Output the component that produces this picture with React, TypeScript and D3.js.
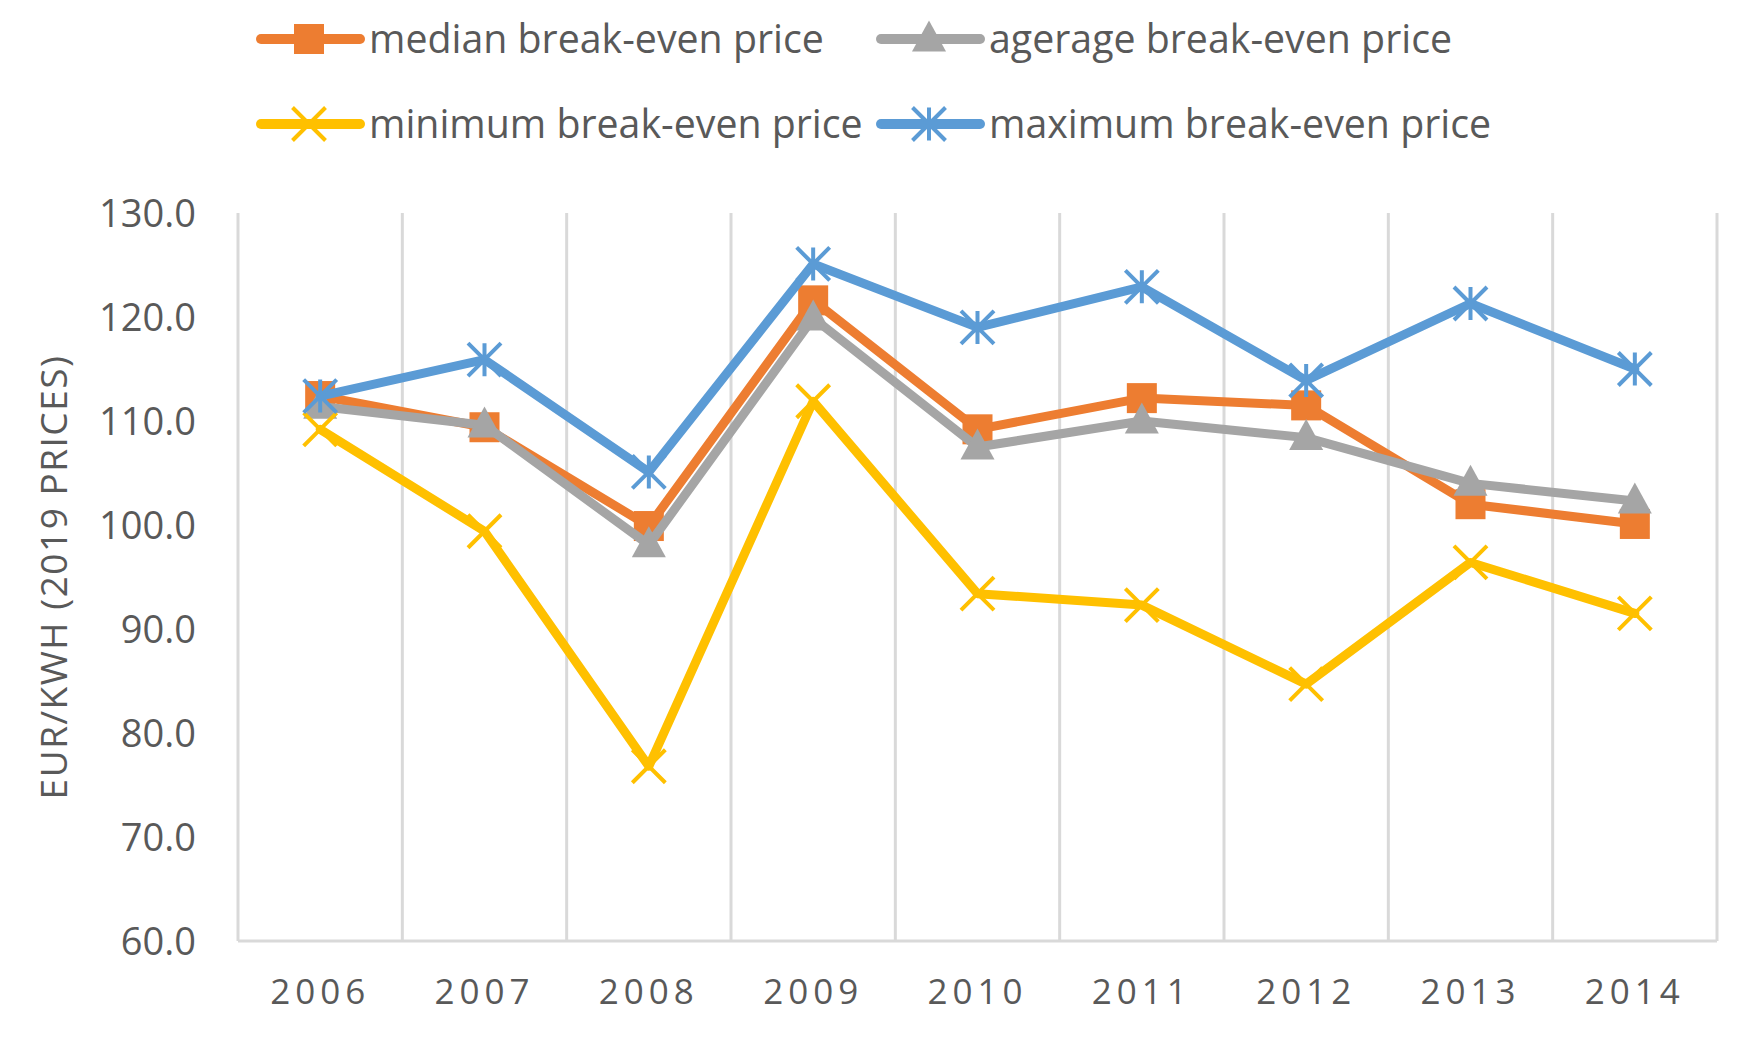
import React from 'react';
import * as d3 from 'd3';

const years = ['2006', '2007', '2008', '2009', '2010', '2011', '2012', '2013', '2014'];
const medianPrice = [112.4, 109.4, 99.9, 121.6, 109.2, 112.2, 111.5, 102.0, 100.1];
const averagePrice = [111.4, 109.6, 98.1, 119.9, 107.5, 110.0, 108.4, 104.0, 102.3];
const minimumPrice = [109.2, 99.4, 76.8, 111.9, 93.4, 92.3, 84.7, 96.4, 91.5];
const maximumPrice = [112.4, 115.9, 105.1, 125.1, 119.0, 122.9, 113.9, 121.3, 115.0];

const seriesLabels = [
  'median break-even price',
  'agerage break-even price',
  'minimum break-even price',
  'maximum break-even price',
];
const yAxisTitle = 'EUR/KWH (2019 PRICES)';

type MarkerKind = 'square' | 'triangle' | 'x' | 'star';

const series: { label: string; values: number[]; color: string; marker: MarkerKind }[] = [
  { label: seriesLabels[0], values: medianPrice, color: '#ED7D31', marker: 'square' },
  { label: seriesLabels[1], values: averagePrice, color: '#A5A5A5', marker: 'triangle' },
  { label: seriesLabels[2], values: minimumPrice, color: '#FFC000', marker: 'x' },
  { label: seriesLabels[3], values: maximumPrice, color: '#5B9BD5', marker: 'star' },
];

const W = 1764;
const H = 1037;
const plot = { left: 238, right: 1717, top: 213, bottom: 941 };
const textColor = '#595959';
const gridColor = '#D9D9D9';
const font = '"Open Sans", sans-serif';

const Marker: React.FC<{ kind: MarkerKind; cx: number; cy: number; color: string }> = ({ kind, cx, cy, color }) => {
  if (kind === 'square') {
    const s = 30;
    return <rect x={cx - s / 2} y={cy - s / 2} width={s} height={s} fill={color} />;
  }
  if (kind === 'triangle') {
    const w = 34, h = 31;
    return <path d={`M${cx},${cy - h * 0.6}L${cx + w / 2},${cy + h * 0.4}L${cx - w / 2},${cy + h * 0.4}Z`} fill={color} />;
  }
  const r = 16.5;
  const arms = [
    `M${cx - r},${cy - r}L${cx + r},${cy + r}`,
    `M${cx - r},${cy + r}L${cx + r},${cy - r}`,
  ];
  if (kind === 'star') arms.push(`M${cx},${cy - r}L${cx},${cy + r}`);
  return <path d={arms.join('')} stroke={color} strokeWidth={4} fill="none" />;
};

const App: React.FC = () => {
  const x = d3.scaleBand<string>().domain(years).range([plot.left, plot.right]).padding(0);
  const y = d3.scaleLinear().domain([60, 130]).range([plot.bottom, plot.top]);
  const cx = (yr: string) => (x(yr) as number) + x.bandwidth() / 2;

  const line = d3.line<number>()
    .x((_, i) => cx(years[i]))
    .y(d => y(d));

  // category boundaries (incl. both edges)
  const bounds = years.map(yr => x(yr) as number).concat([plot.right]);
  const yTicks = d3.range(60, 131, 10);
  const fmt = d3.format('.1f');

  const legendCols = [261, 881];
  const legendRows = [39, 124];

  return (
    <svg width={W} height={H} style={{ position: 'absolute', left: 0, top: 0, background: '#fff' }} fontFamily={font}>
      <rect width={W} height={H} fill="#fff" />

      {/* legend */}
      {series.map((s, i) => {
        const lx = legendCols[i % 2];
        const ly = legendRows[Math.floor(i / 2)];
        return (
          <g key={s.label}>
            <line x1={lx} x2={lx + 99} y1={ly} y2={ly} stroke={s.color} strokeWidth={10} strokeLinecap="round" />
            <Marker kind={s.marker} cx={lx + 48} cy={ly} color={s.color} />
            <text x={lx + 108} y={ly} dy="0.35em" fontSize={39.3} fill={textColor}>{s.label}</text>
          </g>
        );
      })}

      {/* grid */}
      {bounds.map((b, i) => (
        <line key={i} x1={b} x2={b} y1={plot.top} y2={plot.bottom} stroke={gridColor} strokeWidth={3} />
      ))}
      <line x1={plot.left} x2={plot.right} y1={plot.bottom} y2={plot.bottom} stroke={gridColor} strokeWidth={3} />

      {/* y axis labels */}
      {yTicks.map(t => (
        <text key={t} x={196} y={y(t)} dy="0.36em" textAnchor="end" fontSize={38} fill={textColor}>{fmt(t)}</text>
      ))}
      <text
        transform={`translate(${54},${(plot.top + plot.bottom) / 2}) rotate(-90)`}
        textAnchor="middle"
        dy="0.35em"
        fontSize={37}
        letterSpacing={1.5}
        fill={textColor}
      >{yAxisTitle}</text>

      {/* x axis labels */}
      {years.map(yr => (
        <text key={yr} x={cx(yr)} y={1004} textAnchor="middle" fontSize={35} letterSpacing={5} fill={textColor}>{yr}</text>
      ))}

      {/* series */}
      {series.map(s => (
        <g key={s.label}>
          <path d={line(s.values) || ''} fill="none" stroke={s.color} strokeWidth={9} strokeLinejoin="round" strokeLinecap="round" />
          {s.values.map((v, i) => (
            <Marker key={i} kind={s.marker} cx={cx(years[i])} cy={y(v)} color={s.color} />
          ))}
        </g>
      ))}
    </svg>
  );
};

export default App;
